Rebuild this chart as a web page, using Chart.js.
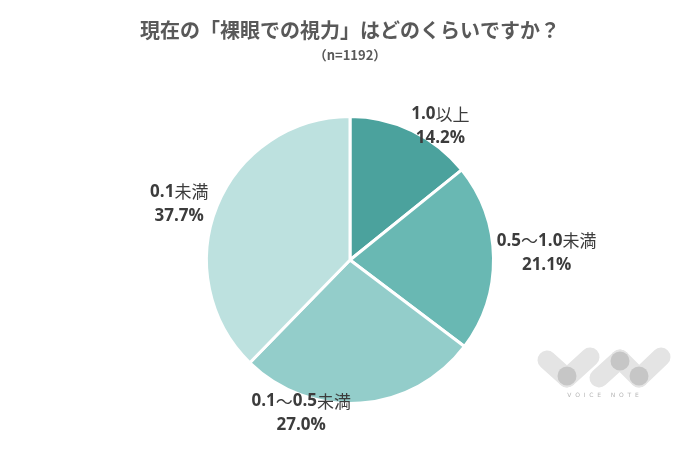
<!DOCTYPE html>
<html>
<head>
<meta charset="utf-8">
<title>現在の「裸眼での視力」</title>
<script src="https://cdn.jsdelivr.net/npm/chart.js"></script>
<style>
  html, body { margin: 0; padding: 0; background: #fff; }
  #wrap { width: 700px; height: 450px; }
</style>
</head>
<body>
<div id="wrap"><canvas id="pie" width="700" height="450"></canvas></div>
<script>
const title = '現在の「裸眼での視力」はどのくらいですか？';
const subtitle = '（n=1192）';
const categories = ['1.0以上', '0.5～1.0未満', '0.1～0.5未満', '0.1未満'];
const shares = [14.2, 21.1, 27.0, 37.7];
const sliceColors = ['#4ba29d', '#69b8b3', '#93cdca', '#bde1df'];
// label centre relative to pie centre, in units of the radius
const labelSpots = [[0.63, -0.93], [1.37, -0.05], [-0.34, 1.07], [-1.19, -0.39]];

const boldFont = 'bold 17px "Open Sans", "Noto Sans CJK JP", sans-serif';
const plainFont = '17px "Noto Sans CJK JP", sans-serif';

// latin runs bold, CJK runs regular, as in the original
function mixedText(ctx, str, x, y) {
    const runs = str.match(/[\x00-\x7f]+|[^\x00-\x7f]+/g);
    const widths = runs.map(s => {
        ctx.font = /^[\x00-\x7f]/.test(s) ? boldFont : plainFont;
        return ctx.measureText(s).width;
    });
    let left = x - widths.reduce((a, b) => a + b, 0) / 2;
    ctx.textAlign = 'left';
    runs.forEach((s, i) => {
        ctx.font = /^[\x00-\x7f]/.test(s) ? boldFont : plainFont;
        ctx.fillText(s, left, y);
        left += widths[i];
    });
    ctx.textAlign = 'center';
}

const textPlugin = {
    id: 'texts',
    afterDraw(chart) {
        const ctx = chart.ctx;
        ctx.save();
        ctx.textAlign = 'center';
        ctx.textBaseline = 'middle';
        ctx.fillStyle = '#595959';
        ctx.font = 'bold 20px "Noto Sans CJK JP", sans-serif';
        ctx.fillText(title, 350, 30);
        ctx.font = 'bold 13px "Noto Sans CJK JP", sans-serif';
        ctx.fillText(subtitle, 350, 55);

        const arc = chart.getDatasetMeta(0).data[0];
        const cx = arc.x, cy = arc.y, r = arc.outerRadius;
        ctx.fillStyle = '#3c3c3c';
        categories.forEach((name, i) => {
            const x = cx + labelSpots[i][0] * r;
            const y = cy + labelSpots[i][1] * r;
            mixedText(ctx, name, x, y - 12);
            ctx.font = boldFont;
            ctx.fillText(shares[i].toFixed(1) + '%', x, y + 12);
        });

        // VOICE NOTE watermark
        ctx.lineCap = 'round';
        ctx.lineWidth = 19;
        ctx.strokeStyle = '#e4e4e4';
        const caps = [[547, 360, 567, 378], [567, 378, 590, 357], [599, 378, 620, 359], [620, 359, 639, 378], [639, 378, 661, 357]];
        caps.forEach(c => { ctx.beginPath(); ctx.moveTo(c[0], c[1]); ctx.lineTo(c[2], c[3]); ctx.stroke(); });
        ctx.fillStyle = '#c6c6c6';
        [[567, 376], [620, 361], [639, 376]].forEach(p => {
            ctx.beginPath(); ctx.arc(p[0], p[1], 9.5, 0, Math.PI * 2); ctx.fill();
        });
        ctx.fillStyle = '#b5b5b5';
        ctx.font = '6px "DejaVu Sans", sans-serif';
        ctx.fillText('V  O  I  C  E     N  O  T  E', 603, 395);
        ctx.restore();
    }
};

new Chart(document.getElementById('pie'), {
    type: 'pie',
    data: {
        labels: categories,
        datasets: [{
            data: shares,
            backgroundColor: sliceColors,
            borderColor: '#ffffff',
            borderWidth: 3
        }]
    },
    options: {
        responsive: false,
        animation: false,
        layout: { padding: { top: 115, bottom: 45, left: 150, right: 150 } },
        plugins: {
            legend: { display: false },
            tooltip: { enabled: false }
        }
    },
    plugins: [textPlugin]
});
</script>
</body>
</html>
